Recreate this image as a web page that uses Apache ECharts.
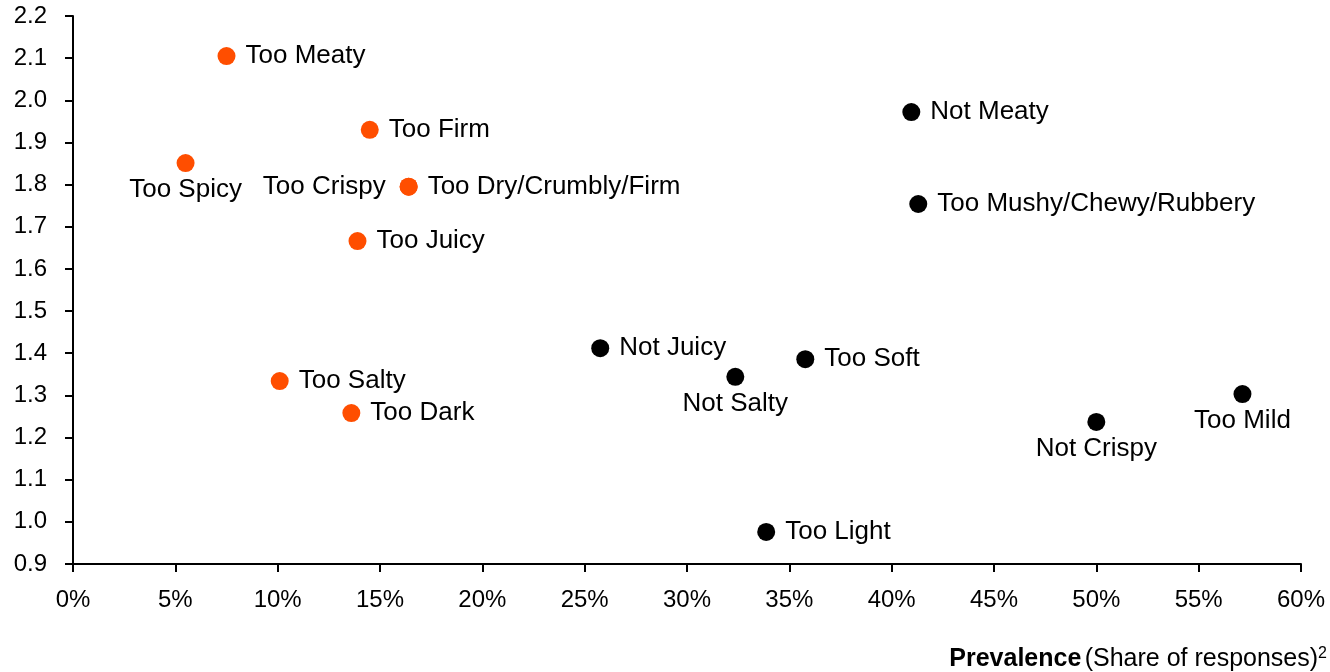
<!DOCTYPE html>
<html>
<head>
<meta charset="utf-8">
<script src="https://cdn.jsdelivr.net/npm/echarts@6/dist/echarts.min.js"></script>
<style>html,body{margin:0;padding:0;background:#fff}#c{width:1330px;height:672px}</style>
</head>
<body>
<div id="c"></div>
<script>
const orangeNames = ['Too Meaty','Too Firm','Too Spicy','Too Crispy','Too Dry/Crumbly/Firm','Too Juicy','Too Salty','Too Dark'];
const orangeX = [7.5, 14.5, 5.5, 16.4, 16.4, 13.9, 10.1, 13.6];
const orangeY = [2.105, 1.93, 1.851, 1.795, 1.795, 1.666, 1.334, 1.258];
const orangePos = ['right','right','bottom','left','right','right','right','right'];

const blackNames = ['Not Meaty','Too Mushy/Chewy/Rubbery','Not Juicy','Not Salty','Too Soft','Not Crispy','Too Mild','Too Light'];
const blackX = [40.96, 41.3, 25.76, 32.36, 35.78, 50.0, 57.14, 33.87];
const blackY = [1.972, 1.754, 1.412, 1.344, 1.386, 1.237, 1.303, 0.976];
const blackPos = ['right','right','right','bottom','right','bottom','bottom','right'];

const FONT = 'Liberation Sans';

function build(names, xs, ys, pos){
  return names.map((n,i)=>({
    name: n,
    value: [xs[i], ys[i]],
    label: { position: pos[i], distance: pos[i]==='bottom' ? 5 : (pos[i]==='left' ? 14 : 10) }
  }));
}

const chart = echarts.init(document.getElementById('c'));
chart.setOption({
  animation: false,
  grid: { left: 73, right: 29, top: 16, bottom: 108 },
  xAxis: {
    type: 'value', min: 0, max: 60, interval: 5,
    axisLine: { lineStyle: { color: '#000', width: 2 } },
    axisTick: { show: true, length: 8, lineStyle: { color: '#000', width: 2 } },
    splitLine: { show: false },
    axisLabel: { formatter: '{value}%', color: '#000', fontSize: 24, fontFamily: FONT, margin: 24 }
  },
  yAxis: {
    type: 'value', min: 0.9, max: 2.2, interval: 0.1,
    axisLine: { show: true, lineStyle: { color: '#000', width: 2 } },
    axisTick: { show: true, length: 8, lineStyle: { color: '#000', width: 2 } },
    splitLine: { show: false },
    axisLabel: { formatter: v => v.toFixed(1), color: '#000', fontSize: 24, fontFamily: FONT, margin: 26 }
  },
  series: [
    {
      type: 'scatter', symbolSize: 18,
      itemStyle: { color: '#FF4E00', opacity: 1 },
      label: { show: true, formatter: '{b}', color: '#000', fontSize: 26, fontFamily: FONT },
      data: build(orangeNames, orangeX, orangeY, orangePos)
    },
    {
      type: 'scatter', symbolSize: 18,
      itemStyle: { color: '#000', opacity: 1 },
      label: { show: true, formatter: '{b}', color: '#000', fontSize: 26, fontFamily: FONT },
      data: build(blackNames, blackX, blackY, blackPos)
    }
  ],
  graphic: [{
    type: 'text', right: 3, bottom: 0,
    style: {
      text: '{b|Prevalence} {n|(Share of responses)}{s|2}',
      rich: {
        b: { fontSize: 25, fontWeight: 'bold', fontFamily: FONT, fill: '#000' },
        n: { fontSize: 25, fontFamily: FONT, fill: '#000' },
        s: { fontSize: 16, fontFamily: FONT, fill: '#000', verticalAlign: 'top', lineHeight: 28 }
      }
    }
  }]
});
</script>
</body>
</html>
